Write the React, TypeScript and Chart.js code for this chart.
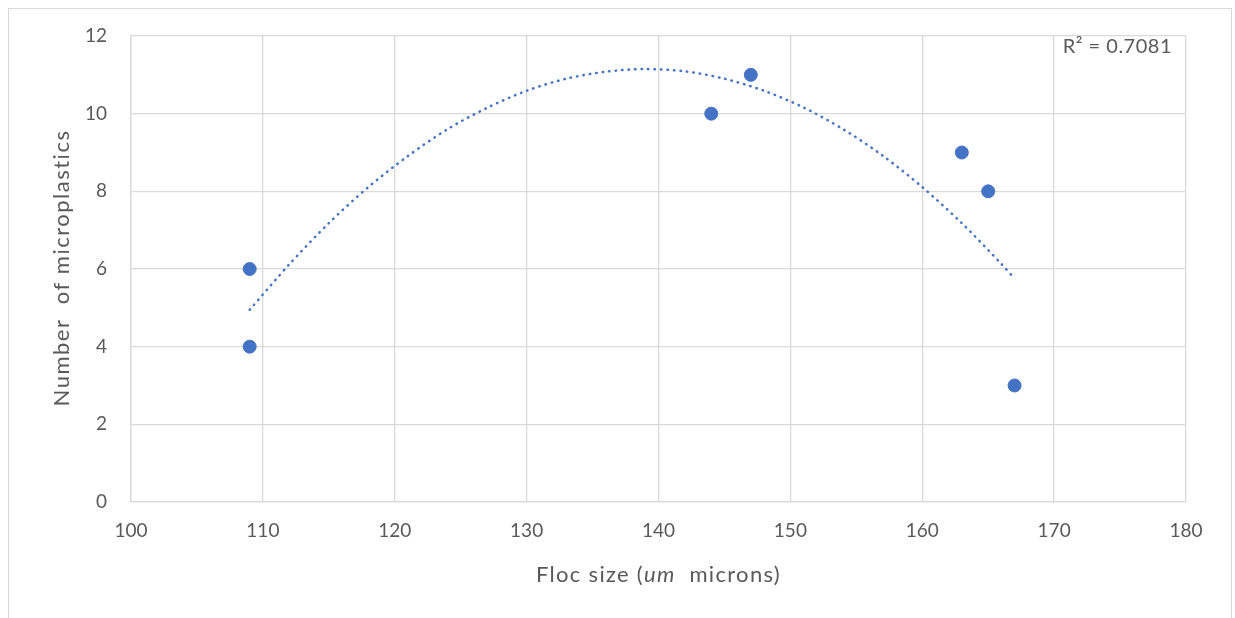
import React, { useEffect, useRef } from 'react';
import { Chart, registerables } from 'chart.js';

Chart.register(...registerables);

// Observed data
const flocSize = [109, 109, 144, 147, 163, 165, 167];
const microplastics = [6, 4, 10, 11, 9, 8, 3];

// Polynomial (order 2) trendline
const trendX = [109, 112, 115, 118, 121, 124, 127, 130, 133, 136, 139, 142, 145, 148, 151, 154, 157, 160, 163, 166, 167];
const trendY = [4.95, 6.12, 7.18, 8.11, 8.91, 9.6, 10.15, 10.59, 10.9, 11.08, 11.15, 11.09, 10.9, 10.59, 10.16, 9.6, 8.92, 8.11, 7.18, 6.13, 5.75];

const xAxisMin = 100;
const xAxisMax = 180;
const xAxisStep = 10;
const yAxisMin = 0;
const yAxisMax = 12;
const yAxisStep = 2;

// x title pieces: [text, italic]
const xTitleParts: [string, boolean][] = [
  ['Floc size (', false],
  ['um', true],
  ['  microns)', false],
];
const yTitle = 'Number  of microplastics';
const rSquaredLabel = 'R² = 0.7081';

const FONT = 'Lato, Calibri, "Open Sans", sans-serif';
const TEXT_COLOR = '#595959';
const GRID_COLOR = '#d9d9d9';
const BLUE = '#4472C4';

const CANVAS_W = 1222;
const CANVAS_H = 609;

export default function App() {
  const ref = useRef<HTMLCanvasElement | null>(null);

  useEffect(() => {
    if (!ref.current) return;

    const textPlugin = {
      id: 'textPlugin',
      afterDraw(chart: any) {
        const { ctx, chartArea } = chart;
        ctx.save();
        ctx.fillStyle = TEXT_COLOR;

        // R² label
        ctx.font = `20px ${FONT}`;
        (ctx as any).letterSpacing = '0.5px';
        ctx.textAlign = 'right';
        ctx.textBaseline = 'middle';
        ctx.fillText(rSquaredLabel, chartArea.right - 14, chartArea.top + 11);

        // x axis title with italic part
        (ctx as any).letterSpacing = '1.3px';
        ctx.textAlign = 'left';
        const widths = xTitleParts.map(([t, it]) => {
          ctx.font = `${it ? 'italic ' : ''}22px ${FONT}`;
          return ctx.measureText(t).width;
        });
        const total = widths.reduce((a, b) => a + b, 0);
        let x = (chartArea.left + chartArea.right) / 2 - total / 2;
        const y = chartArea.bottom + 73;
        xTitleParts.forEach(([t, it], i) => {
          ctx.font = `${it ? 'italic ' : ''}22px ${FONT}`;
          ctx.fillText(t, x, y);
          x += widths[i];
        });

        // y axis title
        ctx.font = `22px ${FONT}`;
        (ctx as any).letterSpacing = '1.5px';
        ctx.textAlign = 'center';
        ctx.translate(chartArea.left - 69, (chartArea.top + chartArea.bottom) / 2 - 1);
        ctx.rotate(-Math.PI / 2);
        ctx.fillText(yTitle, 0, 0);
        ctx.restore();
      },
    };

    const chart = new Chart(ref.current, {
      type: 'scatter',
      data: {
        datasets: [
          {
            label: 'Microplastics',
            data: flocSize.map((x, i) => ({ x, y: microplastics[i] })),
            backgroundColor: BLUE,
            borderColor: BLUE,
            pointRadius: 6.5,
            pointHoverRadius: 6.5,
            showLine: false,
            order: 1,
          },
          {
            label: 'Poly. trend',
            data: trendX.map((x, i) => ({ x, y: trendY[i] })),
            showLine: true,
            borderColor: BLUE,
            borderWidth: 2.5,
            borderDash: [0.5, 6],
            borderCapStyle: 'round',
            pointRadius: 0,
            tension: 0.3,
            fill: false,
            order: 2,
          },
        ],
      },
      options: {
        responsive: false,
        animation: false,
        events: [],
        layout: {
          padding: { left: 0, top: 27, right: CANVAS_W - 1177, bottom: 0 },
        },
        plugins: {
          legend: { display: false },
          tooltip: { enabled: false },
        },
        scales: {
          x: {
            type: 'linear',
            min: xAxisMin,
            max: xAxisMax,
            ticks: {
              stepSize: xAxisStep,
              color: TEXT_COLOR,
              font: { family: FONT, size: 19 },
              padding: 0,
            },
            grid: {
              color: GRID_COLOR,
              drawTicks: true,
              tickLength: 17,
              tickColor: 'rgba(0,0,0,0)',
              lineWidth: 1.3,
            },
            border: { color: GRID_COLOR, width: 1.3 },
            afterFit(scale: any) {
              scale.height = 116;
            },
          },
          y: {
            type: 'linear',
            min: yAxisMin,
            max: yAxisMax,
            ticks: {
              stepSize: yAxisStep,
              color: TEXT_COLOR,
              font: { family: FONT, size: 19 },
              padding: 0,
            },
            grid: {
              color: GRID_COLOR,
              drawTicks: true,
              tickLength: 24,
              tickColor: 'rgba(0,0,0,0)',
              lineWidth: 1.3,
            },
            border: { color: GRID_COLOR, width: 1.3 },
            afterFit(scale: any) {
              scale.width = 122;
            },
          },
        },
      },
      plugins: [textPlugin],
    } as any);

    return () => chart.destroy();
  }, []);

  return (
    <div
      style={{
        position: 'fixed',
        left: 8,
        top: 8,
        width: CANVAS_W,
        height: CANVAS_H + 10,
        borderLeft: '1px solid #d9d9d9',
        borderTop: '1px solid #d9d9d9',
        borderRight: '1px solid #d9d9d9',
        background: '#ffffff',
      }}
    >
      <canvas ref={ref} width={CANVAS_W} height={CANVAS_H} style={{ display: 'block' }} />
    </div>
  );
}
